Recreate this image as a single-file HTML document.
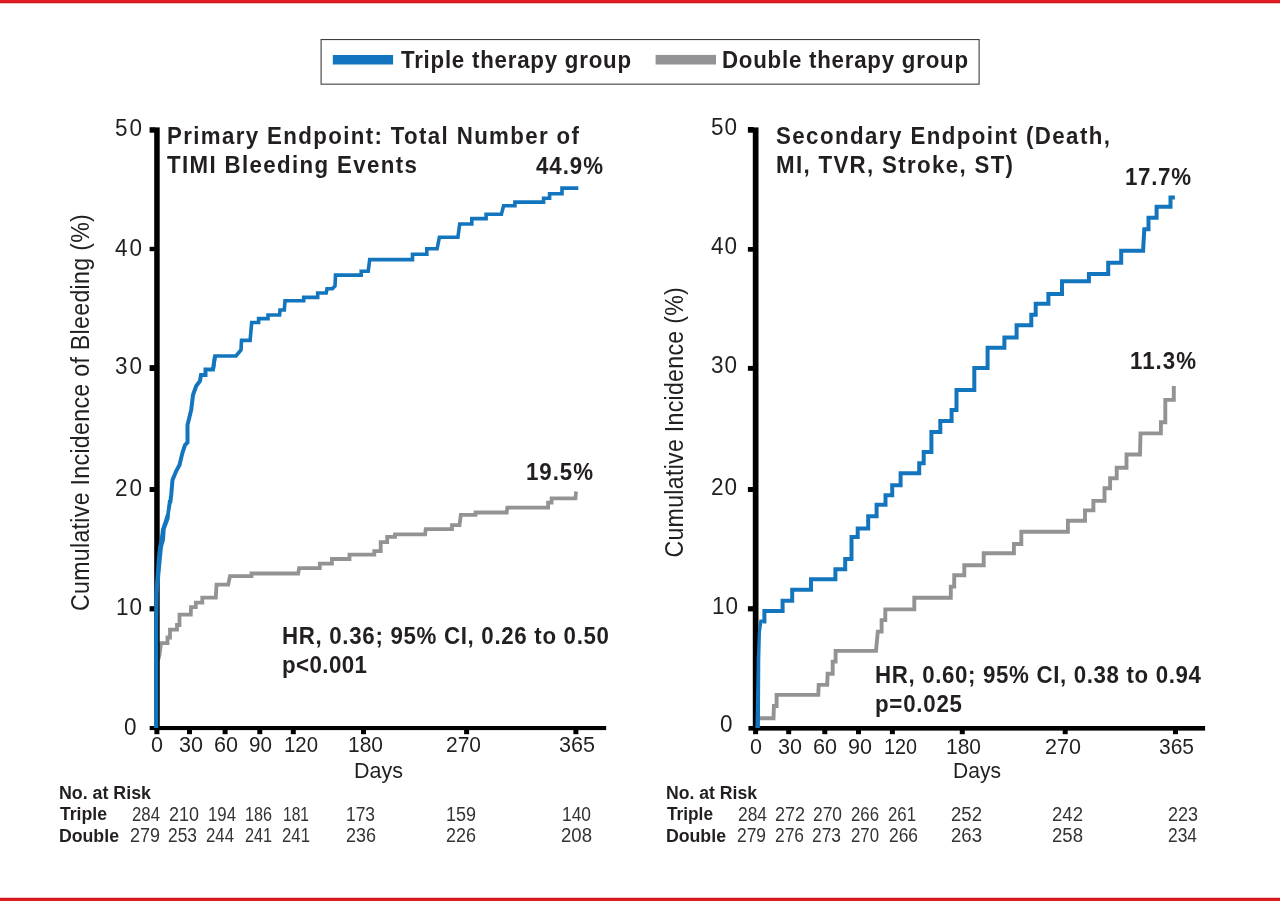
<!DOCTYPE html>
<html lang="en">
<head>
<meta charset="utf-8">
<title>Triple vs double therapy: cumulative incidence</title>
<style>
html,body{margin:0;padding:0;background:#fff;}
body{width:1280px;height:901px;overflow:hidden;position:relative;}
svg{position:absolute;left:0;top:0;display:block;will-change:transform;}
text{font-family:"Liberation Sans", sans-serif;}
</style>
</head>
<body>
<svg width="1280" height="901" viewBox="0 0 1280 901">
<rect x="0" y="0" width="1280" height="901" fill="#ffffff"/>
<rect x="0" y="0" width="1280" height="2" fill="#e41b20"/><rect x="0" y="2" width="1280" height="1" fill="#c2191f"/><rect x="0" y="3" width="1280" height="1" fill="#f8c4c6"/>
<rect x="0" y="897" width="1280" height="1" fill="#f8c9cb"/><rect x="0" y="898" width="1280" height="1" fill="#c5171d"/><rect x="0" y="899" width="1280" height="2" fill="#e41b1e"/>
<!-- legend -->
<rect x="321.1" y="39.55" width="658.0" height="44.6" fill="#fff" stroke="#403c3d" stroke-width="1.1"/>
<rect x="332.8" y="55" width="60.3" height="9.5" fill="#1275bd"/>
<rect x="655.6" y="54.9" width="60.4" height="9.6" fill="#939396"/>

<!-- left chart -->
<polyline points="157.5,728.0 157.5,662.0 159.5,655.0 161.0,643.1 167.5,643.1 167.5,637.5 170.0,637.5 170.0,629.6 177.0,629.6 177.0,625.0 179.5,625.0 179.5,614.7 190.8,614.7 191.0,607.2 195.8,607.2 195.8,602.7 202.3,602.7 202.3,597.6 215.8,597.6 216.5,584.7 228.2,584.7 230.0,576.1 251.5,576.1 251.5,573.5 298.2,573.5 299.1,568.2 319.8,568.2 319.8,563.7 331.9,563.7 331.9,559.0 349.5,559.0 349.5,554.6 374.3,554.6 374.3,551.2 380.7,551.2 380.7,542.2 387.2,542.2 387.2,536.9 395.0,536.9 395.0,534.4 425.1,534.4 425.7,529.1 452.0,529.1 452.0,525.2 459.5,525.2 460.8,514.8 475.5,514.8 475.5,512.5 506.7,512.5 507.3,507.6 548.1,507.6 548.1,502.7 551.6,502.7 551.6,498.4 575.5,498.4 576.0,491.5" fill="none" stroke="#939396" stroke-width="3.8" stroke-linejoin="miter" stroke-linecap="butt"/>
<rect x="154.2" y="127.4" width="5.5" height="602.7" fill="#000"/>
<rect x="149.7" y="726.0" width="456.5" height="4.1" fill="#000"/>
<rect x="149.6" y="127.2" width="5.6" height="5.5" fill="#000"/>
<rect x="149.6" y="246.8" width="5.6" height="4.4" fill="#000"/>
<rect x="149.6" y="365.1" width="5.6" height="5.9" fill="#000"/>
<rect x="149.6" y="487.0" width="5.6" height="5.0" fill="#000"/>
<rect x="149.6" y="606.2" width="5.6" height="5.2" fill="#000"/>
<rect x="154.4" y="727.0" width="5" height="7.2" fill="#000"/>
<rect x="187.0" y="727.0" width="5" height="7.2" fill="#000"/>
<rect x="222.6" y="727.0" width="5" height="7.2" fill="#000"/>
<rect x="257.3" y="727.0" width="5" height="7.2" fill="#000"/>
<rect x="290.8" y="727.0" width="5" height="7.2" fill="#000"/>
<rect x="361.0" y="727.0" width="5" height="7.2" fill="#000"/>
<rect x="464.1" y="727.0" width="5" height="7.2" fill="#000"/>
<rect x="573.4" y="727.0" width="5" height="7.2" fill="#000"/>
<polygon points="154.0,728.0 154.1,620.0 154.3,593.0 155.7,574.7 156.7,560.0 158.1,546.7 159.7,540.0 161.0,529.3 163.7,521.5 166.3,513.3 168.0,500.0 172.2,500.0 170.0,513.3 169.7,518.5 165.7,529.3 165.0,540.0 163.0,546.7 161.7,560.0 160.3,574.7 158.7,593.0 158.3,620.0 158.3,728.0" fill="#1275bd"/>
<polyline points="170.2,503.0 171.2,495.0 172.5,480.0 176.2,471.0 179.5,465.0 182.5,452.5 185.0,445.0 187.5,442.5 187.5,425.0 191.2,410.0 193.0,395.0 196.2,386.0 200.0,381.0 201.0,375.0 205.5,375.0 205.5,369.5 213.0,369.5 215.0,356.0" fill="none" stroke="#1275bd" stroke-width="4.0" stroke-linejoin="miter" stroke-linecap="butt"/>
<polyline points="213.2,369.5 215.0,356.0 236.0,356.0 241.0,350.0 241.5,340.4 250.1,340.4 251.7,322.5 258.6,322.5 258.6,318.6 268.0,318.6 268.0,315.0 279.6,315.0 280.0,310.0 284.3,310.0 285.0,300.8 303.7,300.8 303.7,297.4 317.7,297.4 317.7,293.0 326.2,293.0 327.0,288.8 332.4,288.8 335.0,286.0 335.5,275.1 361.2,275.1 361.2,271.3 368.2,271.3 369.7,259.6 412.5,259.6 412.5,254.2 426.8,254.2 426.8,248.8 437.1,248.8 439.4,237.2 457.9,237.2 459.7,224.0 471.8,224.0 471.8,218.6 486.1,218.6 486.1,214.2 501.4,214.2 503.6,205.7 514.9,205.7 514.9,202.1 543.6,202.1 543.6,198.2 549.6,198.2 549.6,193.7 562.0,193.7 562.0,188.1 578.3,188.1" fill="none" stroke="#1275bd" stroke-width="3.6" stroke-linejoin="miter" stroke-linecap="butt"/>
<!-- right chart -->
<polyline points="757.6,728.0 757.6,718.2 773.5,718.2 773.9,706.0 776.6,706.0 776.6,694.9 818.3,694.9 818.7,684.9 827.2,684.9 827.6,673.8 832.7,673.8 832.7,661.6 835.6,661.6 835.6,650.9 876.0,650.9 877.8,631.6 881.6,631.6 881.6,620.1 885.3,620.1 885.3,609.4 914.3,609.4 914.3,597.8 950.8,597.8 950.8,586.6 954.2,586.6 954.2,575.3 964.3,575.3 964.3,565.2 983.7,565.2 983.7,553.2 1013.9,553.2 1013.9,544.0 1021.3,544.0 1021.3,531.8 1067.9,531.8 1067.9,520.8 1085.0,520.8 1085.0,510.4 1093.4,510.4 1093.4,500.9 1104.5,500.9 1104.5,488.2 1110.1,488.2 1110.1,478.2 1116.7,478.2 1116.7,467.8 1126.5,467.8 1126.5,454.5 1140.0,454.5 1140.5,433.4 1160.9,433.4 1160.9,422.3 1165.3,422.3 1165.3,399.9 1173.8,399.9 1173.8,386.1" fill="none" stroke="#939396" stroke-width="3.9" stroke-linejoin="miter" stroke-linecap="butt"/>
<rect x="752.8" y="127.4" width="5.7" height="603.2" fill="#000"/>
<rect x="748.4" y="726.0" width="456.7" height="4.6" fill="#000"/>
<rect x="747.9" y="127.0" width="5.9" height="5.7" fill="#000"/>
<rect x="747.9" y="247.0" width="5.9" height="4.7" fill="#000"/>
<rect x="747.9" y="365.9" width="5.9" height="4.9" fill="#000"/>
<rect x="747.9" y="487.0" width="5.9" height="5.0" fill="#000"/>
<rect x="747.9" y="606.2" width="5.9" height="5.2" fill="#000"/>
<rect x="753.1" y="727.0" width="5" height="7.2" fill="#000"/>
<rect x="786.2" y="727.0" width="5" height="7.2" fill="#000"/>
<rect x="822.3" y="727.0" width="5" height="7.2" fill="#000"/>
<rect x="856.0" y="727.0" width="5" height="7.2" fill="#000"/>
<rect x="889.9" y="727.0" width="5" height="7.2" fill="#000"/>
<rect x="959.8" y="727.0" width="5" height="7.2" fill="#000"/>
<rect x="1062.7" y="727.0" width="5" height="7.2" fill="#000"/>
<rect x="1173.0" y="727.0" width="5" height="7.2" fill="#000"/>
<polygon points="755.4,728.0 756.7,660.0 757.8,632.0 759.0,623.0 759.4,619.4 764.4,619.4 764.4,622.6 762.4,622.6 761.0,632.0 760.3,660.0 759.9,728.0" fill="#1275bd"/>
<polyline points="762.8,621.4 764.4,621.4 764.4,611.0 782.6,611.0 782.6,600.8 792.2,600.8 792.2,589.7 811.0,589.7 811.0,579.3 835.4,579.3 835.4,569.2 845.2,569.2 845.2,559.1 851.5,559.1 851.5,536.9 857.7,536.9 857.7,528.4 868.2,528.4 868.2,516.2 876.6,516.2 876.6,504.7 885.5,504.7 885.5,495.2 892.2,495.2 892.2,485.2 900.6,485.2 900.6,473.2 919.2,473.2 919.2,463.2 923.7,463.2 923.7,452.1 931.4,452.1 931.4,432.1 940.3,432.1 940.3,421.0 951.6,421.0 951.6,409.9 956.5,409.9 956.5,389.9 974.3,389.9 974.3,367.9 987.6,367.9 987.6,347.7 1004.4,347.7 1004.4,337.4 1016.6,337.4 1016.6,325.2 1031.3,325.2 1031.3,314.7 1035.7,314.7 1035.7,303.7 1048.4,303.7 1048.4,293.9 1062.0,293.9 1062.0,281.2 1088.9,281.2 1088.9,273.9 1108.2,273.9 1108.2,262.7 1121.2,262.7 1121.2,250.7 1143.1,250.7 1144.3,229.2 1148.5,229.2 1148.5,217.8 1156.6,217.8 1156.6,206.8 1170.5,206.8 1170.5,197.5 1174.9,197.5" fill="none" stroke="#1275bd" stroke-width="4.0" stroke-linejoin="miter" stroke-linecap="butt"/>
<!-- labels -->
<text transform="translate(401.00,67.70) scale(1,1.085)" font-size="22.3" font-weight="700" fill="#231f20" textLength="230.00" lengthAdjust="spacing">Triple therapy group</text>
<text transform="translate(722.00,67.70) scale(1,1.085)" font-size="22.3" font-weight="700" fill="#231f20" textLength="246.00" lengthAdjust="spacing">Double therapy group</text>
<text transform="translate(167.00,143.70) scale(1,1.085)" font-size="22.3" font-weight="700" fill="#231f20" textLength="412.00" lengthAdjust="spacing">Primary Endpoint: Total Number of</text>
<text transform="translate(167.00,172.70) scale(1,1.085)" font-size="22.3" font-weight="700" fill="#231f20" textLength="250.00" lengthAdjust="spacing">TIMI Bleeding Events</text>
<text transform="translate(776.00,143.70) scale(1,1.085)" font-size="22.3" font-weight="700" fill="#231f20" textLength="334.00" lengthAdjust="spacing">Secondary Endpoint (Death,</text>
<text transform="translate(776.00,172.85) scale(1,1.085)" font-size="22.3" font-weight="700" fill="#231f20" textLength="237.00" lengthAdjust="spacing">MI, TVR, Stroke, ST)</text>
<text transform="translate(536.00,174.10) scale(1,1.065)" font-size="22.3" font-weight="700" fill="#231f20" textLength="67.00" lengthAdjust="spacing">44.9%</text>
<text transform="translate(526.00,480.00) scale(1,1.065)" font-size="22.3" font-weight="700" fill="#231f20" textLength="67.00" lengthAdjust="spacing">19.5%</text>
<text transform="translate(1125.00,185.15) scale(1,1.065)" font-size="22.3" font-weight="700" fill="#231f20" textLength="66.00" lengthAdjust="spacing">17.7%</text>
<text transform="translate(1130.00,369.20) scale(1,1.065)" font-size="22.3" font-weight="700" fill="#231f20" textLength="66.00" lengthAdjust="spacing">11.3%</text>
<text transform="translate(282.00,643.95) scale(1,1.085)" font-size="22.3" font-weight="700" fill="#231f20" textLength="327.00" lengthAdjust="spacing">HR, 0.36; 95% CI, 0.26 to 0.50</text>
<text transform="translate(282.00,672.65) scale(1,1.085)" font-size="22.3" font-weight="700" fill="#231f20" textLength="85.00" lengthAdjust="spacing">p&lt;0.001</text>
<text transform="translate(875.00,683.05) scale(1,1.085)" font-size="22.3" font-weight="700" fill="#231f20" textLength="326.00" lengthAdjust="spacing">HR, 0.60; 95% CI, 0.38 to 0.94</text>
<text transform="translate(875.00,711.95) scale(1,1.085)" font-size="22.3" font-weight="700" fill="#231f20" textLength="87.00" lengthAdjust="spacing">p=0.025</text>
<text transform="translate(115.00,136.05) scale(1,1.064)" font-size="22.5" fill="#231f20" textLength="27.00" lengthAdjust="spacing">50</text>
<text transform="translate(115.00,255.80) scale(1,1.064)" font-size="22.5" fill="#231f20" textLength="27.00" lengthAdjust="spacing">40</text>
<text transform="translate(115.00,374.05) scale(1,1.064)" font-size="22.5" fill="#231f20" textLength="27.00" lengthAdjust="spacing">30</text>
<text transform="translate(115.00,495.80) scale(1,1.064)" font-size="22.5" fill="#231f20" textLength="27.00" lengthAdjust="spacing">20</text>
<text transform="translate(116.00,615.00) scale(1,1.064)" font-size="22.5" fill="#231f20" textLength="26.00" lengthAdjust="spacing">10</text>
<text transform="translate(124.00,734.70) scale(1,1.064)" font-size="22.5" fill="#231f20" textLength="12.00" lengthAdjust="spacing">0</text>
<text transform="translate(711.00,135.00) scale(1,1.064)" font-size="22.5" fill="#231f20" textLength="26.00" lengthAdjust="spacing">50</text>
<text transform="translate(711.00,253.60) scale(1,1.064)" font-size="22.5" fill="#231f20" textLength="26.00" lengthAdjust="spacing">40</text>
<text transform="translate(711.00,373.00) scale(1,1.064)" font-size="22.5" fill="#231f20" textLength="26.00" lengthAdjust="spacing">30</text>
<text transform="translate(711.00,494.70) scale(1,1.064)" font-size="22.5" fill="#231f20" textLength="26.00" lengthAdjust="spacing">20</text>
<text transform="translate(712.00,613.90) scale(1,1.064)" font-size="22.5" fill="#231f20" textLength="26.00" lengthAdjust="spacing">10</text>
<text transform="translate(720.00,732.40) scale(1,1.064)" font-size="22.5" fill="#231f20" textLength="30.00" lengthAdjust="spacing">0</text>
<text transform="translate(151.00,752.30) scale(1,1.11)" font-size="19.8" fill="#231f20" textLength="12.00" lengthAdjust="spacingAndGlyphs">0</text>
<text transform="translate(179.00,752.30) scale(1,1.11)" font-size="19.8" fill="#231f20" textLength="24.00" lengthAdjust="spacingAndGlyphs">30</text>
<text transform="translate(214.00,752.30) scale(1,1.11)" font-size="19.8" fill="#231f20" textLength="24.00" lengthAdjust="spacingAndGlyphs">60</text>
<text transform="translate(249.00,752.30) scale(1,1.11)" font-size="19.8" fill="#231f20" textLength="23.00" lengthAdjust="spacingAndGlyphs">90</text>
<text transform="translate(284.00,752.30) scale(1,1.11)" font-size="19.8" fill="#231f20" textLength="34.00" lengthAdjust="spacingAndGlyphs">120</text>
<text transform="translate(348.00,752.30) scale(1,1.11)" font-size="19.8" fill="#231f20" textLength="35.00" lengthAdjust="spacingAndGlyphs">180</text>
<text transform="translate(446.00,752.30) scale(1,1.11)" font-size="19.8" fill="#231f20" textLength="35.00" lengthAdjust="spacingAndGlyphs">270</text>
<text transform="translate(559.00,752.30) scale(1,1.11)" font-size="19.8" fill="#231f20" textLength="36.00" lengthAdjust="spacingAndGlyphs">365</text>
<text transform="translate(750.00,753.50) scale(1,1.11)" font-size="19.8" fill="#231f20" textLength="12.00" lengthAdjust="spacingAndGlyphs">0</text>
<text transform="translate(778.00,753.50) scale(1,1.11)" font-size="19.8" fill="#231f20" textLength="24.00" lengthAdjust="spacingAndGlyphs">30</text>
<text transform="translate(813.00,753.50) scale(1,1.11)" font-size="19.8" fill="#231f20" textLength="24.00" lengthAdjust="spacingAndGlyphs">60</text>
<text transform="translate(848.00,753.50) scale(1,1.11)" font-size="19.8" fill="#231f20" textLength="24.00" lengthAdjust="spacingAndGlyphs">90</text>
<text transform="translate(884.00,753.50) scale(1,1.11)" font-size="19.8" fill="#231f20" textLength="33.00" lengthAdjust="spacingAndGlyphs">120</text>
<text transform="translate(946.00,753.50) scale(1,1.11)" font-size="19.8" fill="#231f20" textLength="35.00" lengthAdjust="spacingAndGlyphs">180</text>
<text transform="translate(1045.00,753.50) scale(1,1.11)" font-size="19.8" fill="#231f20" textLength="36.00" lengthAdjust="spacingAndGlyphs">270</text>
<text transform="translate(1159.00,753.50) scale(1,1.11)" font-size="19.8" fill="#231f20" textLength="35.00" lengthAdjust="spacingAndGlyphs">365</text>
<text transform="translate(354.00,777.90) scale(1,1.12)" font-size="19.8" fill="#231f20" textLength="49.00" lengthAdjust="spacingAndGlyphs">Days</text>
<text transform="translate(953.00,777.90) scale(1,1.12)" font-size="19.8" fill="#231f20" textLength="48.00" lengthAdjust="spacingAndGlyphs">Days</text>
<text transform="translate(89.00,611.00) rotate(-90) scale(1,1.09)" font-size="23.2" fill="#231f20" textLength="396.80" lengthAdjust="spacing">Cumulative Incidence of Bleeding (%)</text>
<text transform="translate(683.30,557.60) rotate(-90) scale(1,1.09)" font-size="23.2" fill="#231f20" textLength="270.40" lengthAdjust="spacing">Cumulative Incidence (%)</text>
<text transform="translate(58.90,799.45)" font-size="18.8" font-weight="700" fill="#231f20" textLength="92.10" lengthAdjust="spacingAndGlyphs">No. at Risk</text>
<text transform="translate(59.90,819.80)" font-size="18.8" font-weight="700" fill="#231f20" textLength="47.10" lengthAdjust="spacingAndGlyphs">Triple</text>
<text transform="translate(58.90,841.70)" font-size="18.8" font-weight="700" fill="#231f20" textLength="60.10" lengthAdjust="spacingAndGlyphs">Double</text>
<text transform="translate(665.90,799.45)" font-size="18.8" font-weight="700" fill="#231f20" textLength="91.10" lengthAdjust="spacingAndGlyphs">No. at Risk</text>
<text transform="translate(666.90,819.80)" font-size="18.8" font-weight="700" fill="#231f20" textLength="46.10" lengthAdjust="spacingAndGlyphs">Triple</text>
<text transform="translate(665.90,841.70)" font-size="18.8" font-weight="700" fill="#231f20" textLength="60.10" lengthAdjust="spacingAndGlyphs">Double</text>
<text transform="translate(132.00,820.70) scale(1,1.06)" font-size="19.0" fill="#363233" textLength="28.00" lengthAdjust="spacingAndGlyphs">284</text>
<text transform="translate(169.00,820.70) scale(1,1.06)" font-size="19.0" fill="#363233" textLength="30.00" lengthAdjust="spacingAndGlyphs">210</text>
<text transform="translate(208.00,820.70) scale(1,1.06)" font-size="19.0" fill="#363233" textLength="28.00" lengthAdjust="spacingAndGlyphs">194</text>
<text transform="translate(245.00,820.70) scale(1,1.06)" font-size="19.0" fill="#363233" textLength="27.00" lengthAdjust="spacingAndGlyphs">186</text>
<text transform="translate(283.00,820.70) scale(1,1.06)" font-size="19.0" fill="#363233" textLength="26.00" lengthAdjust="spacingAndGlyphs">181</text>
<text transform="translate(346.00,820.70) scale(1,1.06)" font-size="19.0" fill="#363233" textLength="29.00" lengthAdjust="spacingAndGlyphs">173</text>
<text transform="translate(446.00,820.70) scale(1,1.06)" font-size="19.0" fill="#363233" textLength="30.00" lengthAdjust="spacingAndGlyphs">159</text>
<text transform="translate(562.00,820.70) scale(1,1.06)" font-size="19.0" fill="#363233" textLength="29.00" lengthAdjust="spacingAndGlyphs">140</text>
<text transform="translate(130.00,841.80) scale(1,1.06)" font-size="19.0" fill="#363233" textLength="30.00" lengthAdjust="spacingAndGlyphs">279</text>
<text transform="translate(168.00,841.80) scale(1,1.06)" font-size="19.0" fill="#363233" textLength="29.00" lengthAdjust="spacingAndGlyphs">253</text>
<text transform="translate(206.00,841.80) scale(1,1.06)" font-size="19.0" fill="#363233" textLength="28.00" lengthAdjust="spacingAndGlyphs">244</text>
<text transform="translate(245.00,841.80) scale(1,1.06)" font-size="19.0" fill="#363233" textLength="27.00" lengthAdjust="spacingAndGlyphs">241</text>
<text transform="translate(282.00,841.80) scale(1,1.06)" font-size="19.0" fill="#363233" textLength="28.00" lengthAdjust="spacingAndGlyphs">241</text>
<text transform="translate(346.00,841.80) scale(1,1.06)" font-size="19.0" fill="#363233" textLength="30.00" lengthAdjust="spacingAndGlyphs">236</text>
<text transform="translate(446.00,841.80) scale(1,1.06)" font-size="19.0" fill="#363233" textLength="30.00" lengthAdjust="spacingAndGlyphs">226</text>
<text transform="translate(561.00,841.80) scale(1,1.06)" font-size="19.0" fill="#363233" textLength="31.00" lengthAdjust="spacingAndGlyphs">208</text>
<text transform="translate(738.00,820.70) scale(1,1.06)" font-size="19.0" fill="#363233" textLength="29.00" lengthAdjust="spacingAndGlyphs">284</text>
<text transform="translate(775.00,820.70) scale(1,1.06)" font-size="19.0" fill="#363233" textLength="30.00" lengthAdjust="spacingAndGlyphs">272</text>
<text transform="translate(813.00,820.70) scale(1,1.06)" font-size="19.0" fill="#363233" textLength="29.00" lengthAdjust="spacingAndGlyphs">270</text>
<text transform="translate(851.00,820.70) scale(1,1.06)" font-size="19.0" fill="#363233" textLength="28.00" lengthAdjust="spacingAndGlyphs">266</text>
<text transform="translate(888.00,820.70) scale(1,1.06)" font-size="19.0" fill="#363233" textLength="28.00" lengthAdjust="spacingAndGlyphs">261</text>
<text transform="translate(951.00,820.70) scale(1,1.06)" font-size="19.0" fill="#363233" textLength="31.00" lengthAdjust="spacingAndGlyphs">252</text>
<text transform="translate(1052.00,820.70) scale(1,1.06)" font-size="19.0" fill="#363233" textLength="31.00" lengthAdjust="spacingAndGlyphs">242</text>
<text transform="translate(1168.00,820.70) scale(1,1.06)" font-size="19.0" fill="#363233" textLength="30.00" lengthAdjust="spacingAndGlyphs">223</text>
<text transform="translate(737.00,841.80) scale(1,1.06)" font-size="19.0" fill="#363233" textLength="29.00" lengthAdjust="spacingAndGlyphs">279</text>
<text transform="translate(775.00,841.80) scale(1,1.06)" font-size="19.0" fill="#363233" textLength="29.00" lengthAdjust="spacingAndGlyphs">276</text>
<text transform="translate(812.00,841.80) scale(1,1.06)" font-size="19.0" fill="#363233" textLength="29.00" lengthAdjust="spacingAndGlyphs">273</text>
<text transform="translate(851.00,841.80) scale(1,1.06)" font-size="19.0" fill="#363233" textLength="28.00" lengthAdjust="spacingAndGlyphs">270</text>
<text transform="translate(889.00,841.80) scale(1,1.06)" font-size="19.0" fill="#363233" textLength="29.00" lengthAdjust="spacingAndGlyphs">266</text>
<text transform="translate(951.00,841.80) scale(1,1.06)" font-size="19.0" fill="#363233" textLength="31.00" lengthAdjust="spacingAndGlyphs">263</text>
<text transform="translate(1052.00,841.80) scale(1,1.06)" font-size="19.0" fill="#363233" textLength="31.00" lengthAdjust="spacingAndGlyphs">258</text>
<text transform="translate(1168.00,841.80) scale(1,1.06)" font-size="19.0" fill="#363233" textLength="29.00" lengthAdjust="spacingAndGlyphs">234</text>
</svg>
</body>
</html>
